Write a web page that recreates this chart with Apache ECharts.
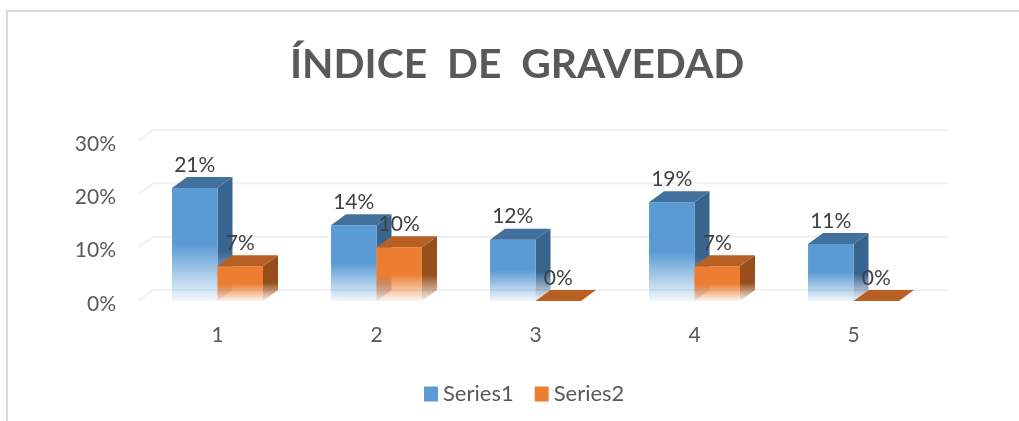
<!DOCTYPE html>
<html>
<head>
<meta charset="utf-8">
<style>
  html, body { margin: 0; padding: 0; background: #fff; }
  #chart { width: 1019px; height: 421px; }
</style>
<script src="https://cdn.jsdelivr.net/npm/echarts@6/dist/echarts.min.js"></script>
</head>
<body>
<div id="chart"></div>
<script>
const categories = ['1', '2', '3', '4', '5']
const series1 = [0.212, 0.142, 0.115, 0.185, 0.107]
const series2 = [0.065, 0.101, 0, 0.065, 0]
const tickValues = [0, 0.1, 0.2, 0.3]

const chart = echarts.init(document.getElementById('chart'))
const depthX = 15
const depthY = 11
const font = 'Lato, Carlito, "Open Sans", sans-serif'

const fade = (color, stop) => ({
  type: 'linear', x: 0, y: 0, x2: 0, y2: 1,
  colorStops: [
    { offset: 0, color },
    { offset: stop, color },
    { offset: 1, color: echarts.color.modifyAlpha(color, 0.08) }
  ]
})

// draws one 3D box, side 0 = left of the category centre, side 1 = right of it
const box = (side, front, top, edge) => (params, api) => {
  const idx = api.value(0)
  const val = api.value(1)
  const base = api.coord([idx, 0])
  const head = api.coord([idx, val])
  const w = api.size([1, 0])[0] * 0.286
  const x0 = base[0] + (side - 1) * w
  const x1 = x0 + w
  const y0 = base[1]
  const y1 = head[1]
  const children = []
  if (y0 - y1 > 1) {
    children.push({
      type: 'polygon',
      shape: { points: [[x1, y1], [x1 + depthX, y1 - depthY], [x1 + depthX, y0 - depthY], [x1, y0]] },
      style: { fill: fade(edge, 0.6) }
    })
    children.push({
      type: 'rect',
      shape: { x: x0, y: y1, width: w, height: y0 - y1 },
      style: { fill: fade(front, 0.5) }
    })
  }
  children.push({
    type: 'polygon',
    shape: { points: [[x0, y1], [x0 + depthX, y1 - depthY], [x1 + depthX, y1 - depthY], [x1, y1]] },
    style: { fill: top }
  })
  children.push({
    type: 'text',
    z2: 10,
    style: {
      x: (x0 + x1) / 2,
      y: y1 - 23,
      text: Math.round(val * 100) + '%',
      fill: '#404040',
      font: '21px ' + font,
      align: 'center',
      verticalAlign: 'middle'
    }
  })
  return { type: 'group', children }
}

// back wall gridline with its short diagonal down to the front plane
const wallLine = (params, api) => {
  const y = api.coord([0, api.value(1)])[1]
  const sys = params.coordSys
  return {
    type: 'polyline',
    shape: {
      points: [
        [sys.x, y],
        [sys.x + depthX, y - depthY],
        [sys.x + sys.width + depthX, y - depthY]
      ]
    },
    style: { stroke: '#f0f0f0', lineWidth: 2, fill: null }
  }
}

const option = {
  backgroundColor: '#fff',
  animation: false,
  textStyle: { fontFamily: font },
  title: {
    text: 'ÍNDICE  DE  GRAVEDAD',
    left: 285,
    top: 39,
    textStyle: { color: '#595959', fontSize: 40.8, fontWeight: 'bold', fontFamily: font }
  },
  legend: {
    data: ['Series1', 'Series2'],
    left: 424,
    top: 383,
    padding: 0,
    icon: 'rect',
    itemWidth: 14,
    itemHeight: 15,
    itemGap: 21,
    textStyle: { color: '#595959', fontSize: 22, fontFamily: font }
  },
  graphic: [
    {
      type: 'polyline',
      silent: true,
      shape: { points: [[7, 421], [7, 11], [1019, 11]] },
      style: { stroke: '#d9d9d9', lineWidth: 2, fill: null }
    }
  ],
  grid: { left: 138, right: 86, top: 141, bottom: 120 },
  xAxis: {
    type: 'category',
    data: categories,
    axisLine: { show: false },
    axisTick: { show: false },
    axisLabel: { color: '#595959', fontSize: 21, margin: 24, fontFamily: font }
  },
  yAxis: {
    type: 'value',
    min: 0,
    max: 0.3,
    interval: 0.1,
    splitLine: { show: false },
    axisLine: { show: false },
    axisTick: { show: false },
    axisLabel: {
      color: '#595959',
      fontSize: 21,
      margin: 22,
      verticalAlign: 'top',
      lineHeight: 6,
      fontFamily: font,
      formatter: v => Math.round(v * 100) + '%'
    }
  },
  series: [
    {
      name: 'wall',
      type: 'custom',
      silent: true,
      renderItem: wallLine,
      data: tickValues.map(v => [0, v]),
      z: 1
    },
    {
      name: 'Series1',
      type: 'custom',
      renderItem: box(0, '#5b9bd5', '#41719c', '#386590'),
      itemStyle: { color: '#5b9bd5' },
      data: series1.map((v, i) => [i, v]),
      z: 2
    },
    {
      name: 'Series2',
      type: 'custom',
      renderItem: box(1, '#ed7d31', '#b85f23', '#974e1a'),
      itemStyle: { color: '#ed7d31' },
      data: series2.map((v, i) => [i, v]),
      z: 3
    }
  ]
}

chart.setOption(option)
window.addEventListener('resize', () => chart.resize())
</script>
</body>
</html>
